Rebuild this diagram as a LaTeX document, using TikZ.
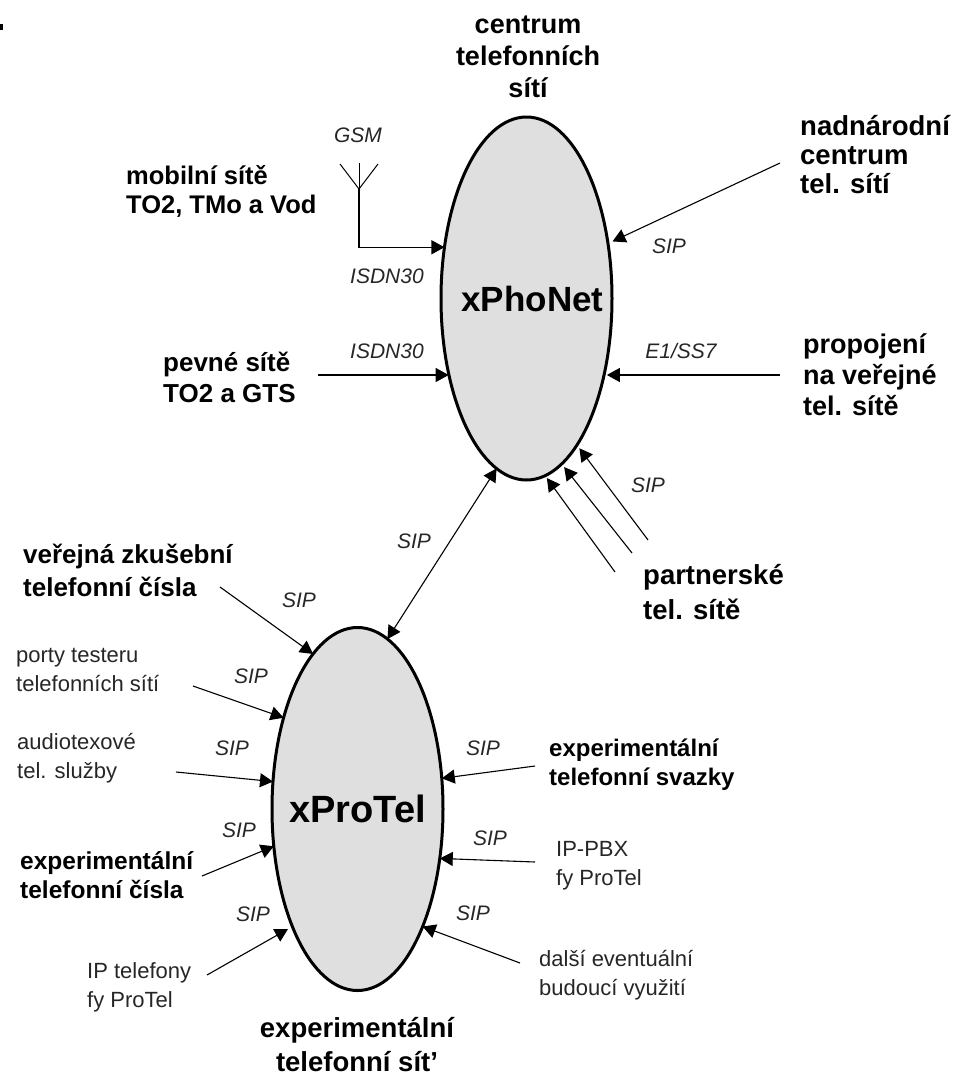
\documentclass[tikz,border=0pt]{standalone}
\usepackage{fontspec}
\setmainfont{Liberation Sans}
\usetikzlibrary{arrows.meta,shapes.geometric}
\newcommand{\fs}[2]{\fontsize{#1}{#2}\selectfont}
\tikzset{
  x=1pt,y=-1pt,
  net/.style={draw=black,line width=3pt,fill=cloudgray,ellipse,inner sep=0pt,outer sep=0pt,minimum width=171pt,minimum height=363pt,font=\bfseries\fs{#1}{#1}},
  wire/.style={line width=1.3pt,draw=black,-{Triangle[length=13pt,width=14pt]}},
  wirethin/.style={line width=1.1pt,draw=black,-{Triangle[length=13pt,width=14pt]}},
  bi/.style={line width=1.1pt,draw=black,{Triangle[length=13pt,width=14pt]}-{Triangle[length=13pt,width=14pt]}},
  ant/.style={line width=1pt,draw=black},
  tag/.style={font=\itshape\fs{21}{21},inner sep=0pt,text=black!85},
  head/.style={font=\bfseries\fs{#1}{31},inner sep=0pt,align=left,anchor=west},
  plain/.style={font=\fs{22}{29},inner sep=0pt,align=left,anchor=west,text=black!85},
}
\definecolor{cloudgray}{HTML}{DFDFDF}
\begin{document}
\begin{tikzpicture}
\useasboundingbox (0,0) rectangle (956,1077);
\fill[black] (0,24) rectangle (3,30);

% networks
\node[net=35] (phonet) at (526.5,298.5) {\makebox[0pt]{\hspace{12pt}\raisebox{-3pt}{xPhoNet}}};
\node[net=38] (protel) at (357.5,809) {\makebox[0pt]{\raisebox{-7pt}{xProTel}}};

% free ends
\coordinate (antbase) at (359,189);
\coordinate (anttop) at (359,163);
\coordinate (antl) at (340,164);
\coordinate (antr) at (378,164);
\coordinate (fixedend) at (318,375);
\coordinate (pubend) at (780,375);
\coordinate (transend) at (780,163);
\coordinate (partA) at (648,540);
\coordinate (partB) at (632,553);
\coordinate (partC) at (615,572);
\coordinate (zkusend) at (220,587);
\coordinate (portyend) at (193,686);
\coordinate (audioend) at (176,772);
\coordinate (expend) at (202,876);
\coordinate (ipend) at (207,975);
\coordinate (svazend) at (535,766);
\coordinate (pbxend) at (535,862);
\coordinate (dalsiend) at (520,963);

% antenna
\draw[ant] (antl) -- (antbase) -- (antr);
\draw[ant] (anttop) -- (antbase);

% connectors to xPhoNet
\draw[wire] (antbase) |- (phonet.148.4);
\draw[wire] (fixedend) -- (fixedend -| phonet.224.6);
\draw[wire,shorten >=3pt] (pubend) -- (pubend -| phonet.315.4);
\draw[wirethin,shorten >=5pt] (transend) -- (phonet.34.3);
\draw[wirethin,shorten >=4pt] (partA) -- (phonet.289.1);
\draw[wirethin,shorten >=4pt] (partB) -- (phonet.282.3);
\draw[wirethin,shorten >=3pt] (partC) -- (phonet.276.5);
\draw[bi] (phonet.260.2) -- (protel.80);

% connectors to xProTel
\draw[wirethin] (zkusend) -- (protel.106.2);
\draw[wirethin] (portyend) -- (protel.129.3);
\draw[wirethin] (audioend) -- (protel.162.7);
\draw[wirethin] (expend) -- (protel.204.2);
\draw[wirethin,shorten >=5pt] (ipend) -- (protel.241.1);
\draw[wirethin] (svazend) -- (protel.20.2);
\draw[wirethin] (pbxend) -- (protel.329.8);
\draw[wirethin] (dalsiend) -- (protel.299.5);

% headings
\node[head=27,align=center,anchor=center,font=\bfseries\fs{27}{32}] (tcentrum) at (528,57) {centrum\\telefonních\\sítí};
\node[head=27,font=\bfseries\fs{27.5}{29}] (tnad) at (800,155) {nadnárodní\\centrum\\tel. sítí};
\node[head=27] (tprop) at (803,375) {propojení\\na veřejné\\tel. sítě};
\node[head=25.5,font=\bfseries\fs{25.5}{29}] (tmob) at (126,191) {mobilní sítě\\TO2, TMo a Vod};
\node[head=26] (tpev) at (163,377) {pevné sítě\\TO2 a GTS};
\node[head=27.5,font=\bfseries\fs{27.5}{35}] (tpart) at (643,592) {partnerské\\tel. sítě};
\node[head=26,font=\bfseries\fs{26}{33}] (tver) at (23,570) {veřejná zkušební\\telefonní čísla};
\node[head=24.5,font=\bfseries\fs{24.5}{29}] (texp) at (20,875.5) {experimentální\\telefonní čísla};
\node[head=24,font=\bfseries\fs{24}{29}] (tsvaz) at (549,765) {experimentální\\telefonní svazky};
\node[head=28,align=center,anchor=center,font=\bfseries\fs{27.5}{34}] (tbot) at (357,1045) {experimentální\\telefonní sít’};

% plain captions
\node[plain] (tporty) at (16,670) {porty testeru\\telefonních sítí};
\node[plain] (taudio) at (17,758) {audiotexové\\tel. služby};
\node[plain] (tip) at (87,987) {IP telefony\\fy ProTel};
\node[plain] (tpbx) at (556,866) {IP-PBX\\fy ProTel};
\node[plain] (tdalsi) at (539,975) {další eventuální\\budoucí využití};

% connector labels
\node[tag] (lgsm) at (358,135) {GSM};
\node[tag] (lisdna) at (387,276) {ISDN30};
\node[tag] (lisdnb) at (387,351) {ISDN30};
\node[tag] (lsipa) at (669,246) {SIP};
\node[tag] (le) at (681,351) {E1/SS7};
\node[tag] (lsipb) at (648,485) {SIP};
\node[tag] (lsipc) at (414,541) {SIP};
\node[tag] (lsipd) at (299,600) {SIP};
\node[tag] (lsipe) at (251,676) {SIP};
\node[tag] (lsipf) at (232,748) {SIP};
\node[tag] (lsipg) at (239,830) {SIP};
\node[tag] (lsiph) at (253,914) {SIP};
\node[tag] (lsipi) at (483,748) {SIP};
\node[tag] (lsipj) at (490,838) {SIP};
\node[tag] (lsipk) at (473,913) {SIP};
\end{tikzpicture}
\end{document}
